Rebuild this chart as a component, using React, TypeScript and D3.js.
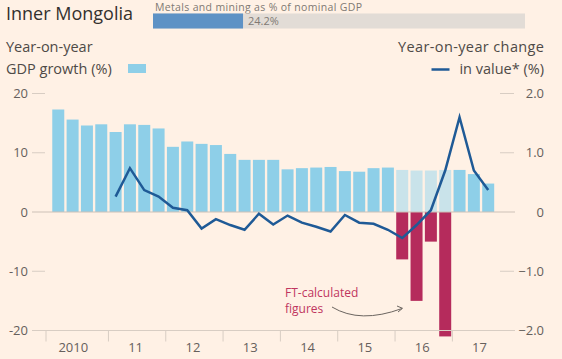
import React from "react";
import * as d3 from "d3";

const quarters = [
  "2010Q1","2010Q2","2010Q3","2010Q4",
  "2011Q1","2011Q2","2011Q3","2011Q4",
  "2012Q1","2012Q2","2012Q3","2012Q4",
  "2013Q1","2013Q2","2013Q3","2013Q4",
  "2014Q1","2014Q2","2014Q3","2014Q4",
  "2015Q1","2015Q2","2015Q3","2015Q4",
  "2016Q1","2016Q2","2016Q3","2016Q4",
  "2017Q1","2017Q2","2017Q3","2017Q4",
];

const gdpGrowth = [
  17.3, 15.6, 14.6, 14.8, 13.5, 14.8, 14.7, 14.1,
  11.0, 11.9, 11.5, 11.3, 9.8, 8.8, 8.8, 8.8,
  7.2, 7.4, 7.5, 7.6, 6.9, 6.8, 7.4, 7.5,
  7.1, 7.0, 7.0, 7.1, 7.1, 6.4, 4.8,
];

const officialQuarters = ["2016Q1", "2016Q2", "2016Q3", "2016Q4"];
const ftCalcQuarters = ["2016Q1", "2016Q2", "2016Q3", "2016Q4"];
const ftCalcValues = [-8.0, -15.0, -5.0, -21.0];

const valueChangeQuarters = quarters.slice(4, 31);
const valueChange = [
  0.26, 0.74, 0.37, 0.26, 0.07, 0.03, -0.28, -0.12,
  -0.22, -0.30, -0.03, -0.21, -0.06, -0.18, -0.25, -0.33,
  -0.05, -0.18, -0.20, -0.30, -0.44, -0.22, 0.03, 0.70,
  1.60, 0.70, 0.37,
];

const leftTicks = [20, 10, 0, -10, -20];
const rightTicks = [2, 1, 0, -1, -2];
const years = ["2010", "2011", "2012", "2013", "2014", "2015", "2016", "2017"];
const yearLabels = ["2010", "11", "12", "13", "14", "15", "16", "17"];
const metalsShare = 24.2;

const W = 562;
const H = 359;
const FONT = "'Open Sans', 'Noto Sans', sans-serif";

export default function App() {
  const x = d3
    .scaleBand<string>()
    .domain(quarters)
    .range([51.1, 509.7])
    .paddingInner(0.163)
    .paddingOuter(0.0815);
  const yL = d3.scaleLinear().domain([-20, 20]).range([330.5, 93.5]);
  const yR = d3.scaleLinear().domain([-2, 2]).range([330.5, 93.5]);
  const share = d3.scaleLinear().domain([0, 100]).range([153, 525]);

  const line = d3
    .line<number>()
    .x((_, i) => (x(valueChangeQuarters[i]) as number) + x.bandwidth() / 2)
    .y((d) => yR(d));

  const step = x.step();
  const yearStart = (yr: string) => (x(yr + "Q1") as number) - (step - x.bandwidth()) / 2;

  return (
    <>
      <style>{`body{margin:0;background:#fff1e5}`}</style>
      <svg width={W} height={H} style={{ display: "block", background: "#fff1e5", fontFamily: FONT }}>
        <rect x={0} y={0} width={W} height={H} fill="#fff1e5" />
        {/* Header */}
        <text x={6} y={20} fontSize={18} fill="#33302e">Inner Mongolia</text>
        <text x={155} y={11} fontSize={10.5} fill="#807973" textLength={207}>Metals and mining as % of nominal GDP</text>
        <rect x={share(0)} y={13.5} width={share(100) - share(0)} height={15} fill="#e2dcd6" />
        <rect x={share(0)} y={13.5} width={share(metalsShare) - share(0)} height={15} fill="#5e92c5" />
        <text x={share(metalsShare) + 5} y={25} fontSize={11} fill="#807973">{metalsShare}%</text>

        {/* Axis titles & legends */}
        <text x={6} y={52} fontSize={14.5} fill="#4e4a47">Year-on-year</text>
        <text x={6} y={73.5} fontSize={14.5} fill="#4e4a47">GDP growth (%)</text>
        <rect x={128} y={64} width={18} height={9} fill="#8ecfe8" />
        <text x={544} y={52} fontSize={14.5} fill="#4e4a47" textAnchor="end" textLength={146}>Year-on-year change</text>
        <text x={544} y={73.5} fontSize={14.5} fill="#4e4a47" textAnchor="end">in value* (%)</text>
        <line x1={431.5} x2={449.5} y1={69.5} y2={69.5} stroke="#1f5a96" strokeWidth={2.5} />

        {/* Left ticks */}
        {leftTicks.map((t) => (
          <g key={"l" + t}>
            {t !== 0 && t !== -20 && (
              <line x1={32} x2={45} y1={yL(t)} y2={yL(t)} stroke="#d8cdc3" strokeWidth={1} />
            )}
            <text x={28} y={yL(t) + 4.5} fontSize={13} fill="#66605c" textAnchor="end">{t}</text>
          </g>
        ))}
        {/* Right ticks */}
        {rightTicks.map((t) => (
          <g key={"r" + t}>
            {t !== 0 && t !== -2 && (
              <line x1={500} x2={514} y1={yR(t)} y2={yR(t)} stroke="#d8cdc3" strokeWidth={1} />
            )}
            <text x={544} y={yR(t) + 4.5} fontSize={13} fill="#66605c" textAnchor="end">
              {t === 0 ? "0" : d3.format(".1f")(t)}
            </text>
          </g>
        ))}

        {/* Bars */}
        {gdpGrowth.map((v, i) => {
          const q = quarters[i];
          const pale = officialQuarters.includes(q);
          return (
            <rect
              key={q}
              x={x(q)}
              y={yL(Math.max(0, v))}
              width={x.bandwidth()}
              height={Math.abs(yL(v) - yL(0))}
              fill={pale ? "#c9e3ea" : "#8ecfe8"}
            />
          );
        })}
        {ftCalcValues.map((v, i) => {
          const q = ftCalcQuarters[i];
          return (
            <rect
              key={"ft" + q}
              x={x(q)}
              y={yL(0)}
              width={x.bandwidth()}
              height={yL(v) - yL(0)}
              fill="#b52b5c"
            />
          );
        })}

        {/* Zero line and baseline */}
        <line x1={32} x2={515} y1={yL(0)} y2={yL(0)} stroke="#cdc2b8" strokeWidth={1.2} />
        <line x1={32} x2={515} y1={yL(-20)} y2={yL(-20)} stroke="#d8cdc3" strokeWidth={1} />

        {/* Year ticks and labels */}
        {years.map((yr, i) => {
          const s = i === 0 ? 46 : yearStart(yr);
          const c = yearStart(yr) + 2 * step;
          return (
            <g key={yr}>
              <line x1={s} x2={s} y1={yL(-20)} y2={yL(-20) + 11} stroke="#d8cdc3" strokeWidth={1} />
              <text x={i === 0 ? c - 6.5 : c - 1.5} y={352} fontSize={13} fill="#66605c" textAnchor="middle">
                {yearLabels[i]}
              </text>
            </g>
          );
        })}

        {/* Line */}
        <path d={line(valueChange) || ""} fill="none" stroke="#1f5a96" strokeWidth={2.5} strokeLinejoin="miter" />

        {/* Annotation */}
        <text x={285} y={297} fontSize={12} fill="#c0365f">FT-calculated</text>
        <text x={285} y={313} fontSize={12} fill="#c0365f">figures</text>
        <path d="M332,307 Q360,324 402,308.5" fill="none" stroke="#6b6560" strokeWidth={1} />
        <path d="M397,306 L402.5,308.3 L398,312" fill="none" stroke="#6b6560" strokeWidth={1} />
      </svg>
    </>
  );
}
